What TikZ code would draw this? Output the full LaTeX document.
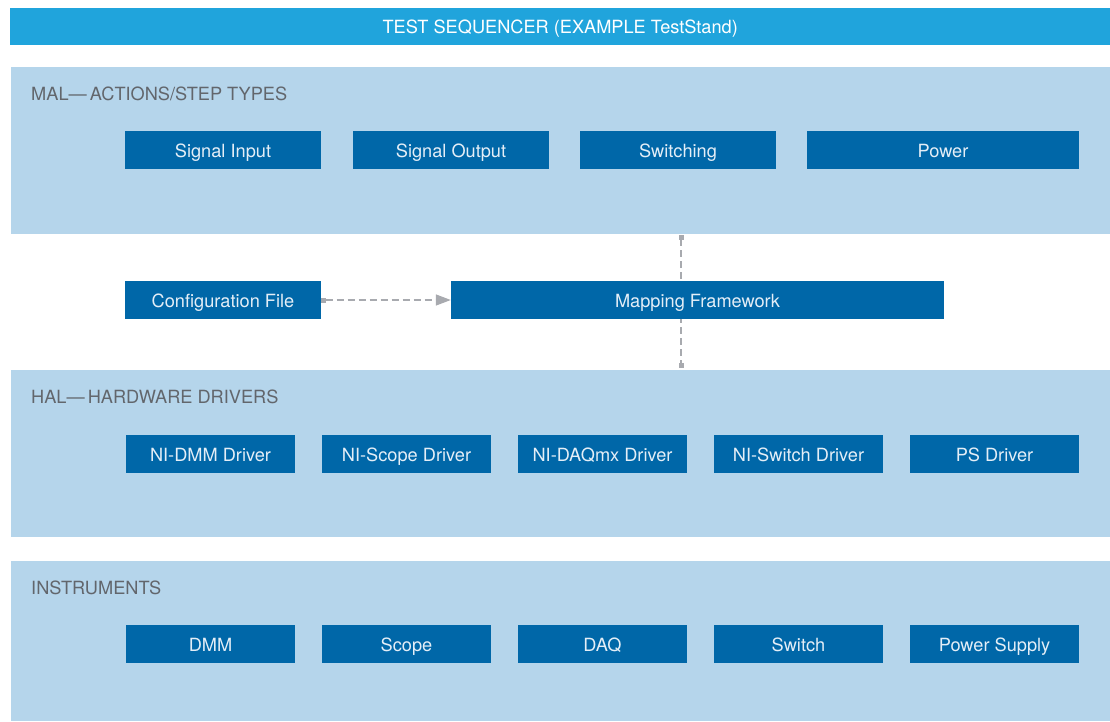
\documentclass[tikz,border=0pt]{standalone}
\usepackage{fontspec}
\setmainfont{TeX Gyre Heros}
\usetikzlibrary{arrows.meta, positioning}
\definecolor{seqblue}{RGB}{32,164,220}
\definecolor{layerblue}{RGB}{181,213,235}
\definecolor{boxblue}{RGB}{0,103,168}
\definecolor{boxtext}{RGB}{228,238,247}
\definecolor{labelgray}{RGB}{98,102,108}
\definecolor{linkgray}{RGB}{168,170,175}

\begin{document}
\begin{tikzpicture}[x=1pt, y=-1pt,
  layer/.style={fill=layerblue, anchor=north west, inner sep=0pt, minimum width=1099pt},
  block/.style={fill=boxblue, text=boxtext, minimum height=38pt, inner sep=0pt, text height=16pt, text depth=2pt,
    font=\fontsize{18.2}{22}\selectfont},
  layerlabel/.style={anchor=west, text=labelgray, inner sep=0pt, font=\fontsize{18.2}{22}\selectfont},
  link/.style={draw=linkgray, line width=1.4pt, dash pattern=on 7pt off 4pt}]
\useasboundingbox (0,0) rectangle (1110,721);

% Top bar - sequencer
\node[fill=seqblue, text=white, anchor=north west, inner sep=0pt, minimum width=1100pt, minimum height=37pt,
  text height=16pt, text depth=2pt, font=\fontsize{18.2}{22}\selectfont] (seq) at (10,8) {TEST SEQUENCER (EXAMPLE TestStand)};

% Layers
\node[layer, minimum height=167pt] (mal) at (11,67) {};
\node[layer, minimum height=167pt] (hal) at (11,370) {};
\node[layer, minimum height=160pt] (inst) at (11,561) {};

\node[layerlabel] (mallabel) at (31,94) {MAL---\,ACTIONS/STEP TYPES};
\node[layerlabel] (hallabel) at (31,397) {HAL---\,HARDWARE DRIVERS};
\node[layerlabel] (instlabel) at (31,588) {INSTRUMENTS};

% Vertical link through the mapping framework
\coordinate (maltap) at (681,235);
\coordinate (haltap) at (681,368);
\draw[link, {Square[length=5pt,width=5pt]}-{Square[length=5pt,width=5pt]}] (maltap) -- (haltap);

% MAL - step types
\node[block, minimum width=196pt] (sigin) at (223,150) {Signal Input};
\node[block, minimum width=196pt] (sigout) at (451,150) {Signal Output};
\node[block, minimum width=196pt] (switching) at (678,150) {Switching};
\node[block, minimum width=272pt] (power) at (943,150) {Power};

% Middle - configuration and mapping
\node[block, minimum width=196pt] (config) at (223,300) {Configuration File};
\node[block, minimum width=493pt] (mapping) at (697.5,300) {Mapping Framework};
\draw[link, {Square[length=5pt,width=5pt]}-{Triangle[length=15pt,width=11pt]}] (config) -- (mapping);

% HAL - drivers
\foreach \name/\txt [count=\i] in {dmmdrv/NI-DMM Driver, scopedrv/NI-Scope Driver, daqdrv/NI-DAQmx Driver,
    switchdrv/NI-Switch Driver, psdrv/PS Driver} {
    \node[block, minimum width=169pt] (\name) at (210.5+196*\i-196,454) {\txt};
}

% Instruments
\foreach \name/\txt [count=\i] in {dmm/DMM, scope/Scope, daq/DAQ, switch/Switch, psupply/Power Supply} {
    \node[block, minimum width=169pt] (\name) at (210.5+196*\i-196,644) {\txt};
}
\end{tikzpicture}
\end{document}
